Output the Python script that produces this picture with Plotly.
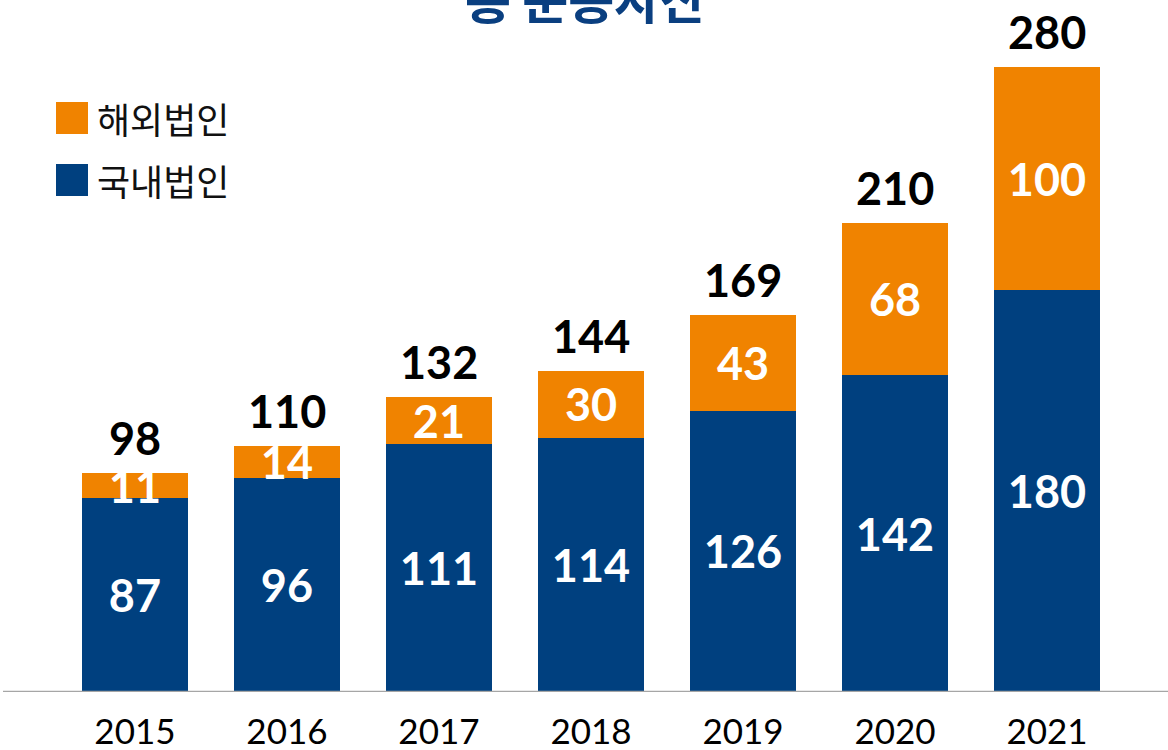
import plotly.graph_objects as go

years = ["2015", "2016", "2017", "2018", "2019", "2020", "2021"]
domestic = [87, 96, 111, 114, 126, 142, 180]
overseas = [11, 14, 21, 30, 43, 68, 100]
totals = [98, 110, 132, 144, 169, 210, 280]

BLUE = "#00407F"
ORANGE = "#F08300"
NUM_FONT = "Lato"
KR_FONT = "Noto Sans CJK KR"

fig = go.Figure()
fig.add_trace(go.Bar(
    x=years, y=domestic, name="국내법인", marker=dict(color=BLUE, line=dict(width=0)),
    text=[str(v) for v in domestic], textposition="inside", insidetextanchor="middle",
    constraintext="none", textangle=0,
    textfont=dict(family=NUM_FONT, size=45, color="white", weight="bold"),
))
fig.add_trace(go.Bar(
    x=years, y=overseas, name="해외법인", marker=dict(color=ORANGE, line=dict(width=0)),
    text=[str(v) for v in overseas], textposition="inside", insidetextanchor="middle",
    constraintext="none", textangle=0,
    textfont=dict(family=NUM_FONT, size=45, color="white", weight="bold"),
))

for i, t in enumerate(totals):
    fig.add_annotation(x=i, y=t, xref="x", yref="y", text=str(t), showarrow=False,
                       yanchor="bottom", yshift=6,
                       font=dict(family=NUM_FONT, size=45, color="black", weight="bold"))

# Title (mostly cut off at the top in the reference)
fig.add_annotation(xref="paper", yref="paper", x=0.50, y=1, xanchor="center", yanchor="bottom",
                   yshift=-35, text="<b>총 운용자산</b>", showarrow=False,
                   font=dict(family=KR_FONT, size=50, color="#0A3F80"))

# Custom legend
legend_items = [("해외법인", ORANGE, 118), ("국내법인", BLUE, 180)]
for label, col, yc in legend_items:
    fig.add_shape(type="rect", xref="paper", yref="paper",
                  x0=(56 - 3) / 1165, x1=(88 - 3) / 1165,
                  y0=(692 - (yc + 16)) / 692, y1=(692 - (yc - 16)) / 692,
                  fillcolor=col, line=dict(width=0))
    fig.add_annotation(xref="paper", yref="paper", x=(95 - 3) / 1165, y=(692 - yc) / 692,
                       xanchor="left", yanchor="middle", text=label, showarrow=False,
                       font=dict(family=KR_FONT, size=36, color="#111111"))

fig.update_layout(
    barmode="stack",
    bargap=0.30,
    width=1168, height=750,
    margin=dict(l=3, r=0, t=0, b=58),
    plot_bgcolor="white", paper_bgcolor="white",
    showlegend=False,
    xaxis=dict(type="category", range=[-0.868, 6.796], showgrid=False, zeroline=False,
               showline=False, ticks="", ticklabelstandoff=16,
               tickfont=dict(family=NUM_FONT, size=35, color="black")),
    yaxis=dict(range=[0, 310], visible=False, showgrid=False, zeroline=False),
)

# Baseline axis line
fig.add_shape(type="line", xref="paper", yref="y", x0=0, x1=1, y0=0, y1=0,
              line=dict(color="#A6A6A6", width=2.5), layer="above")

fig.write_html("out.html", config={"displayModeBar": False},
               post_script="document.body.style.margin='0';")
